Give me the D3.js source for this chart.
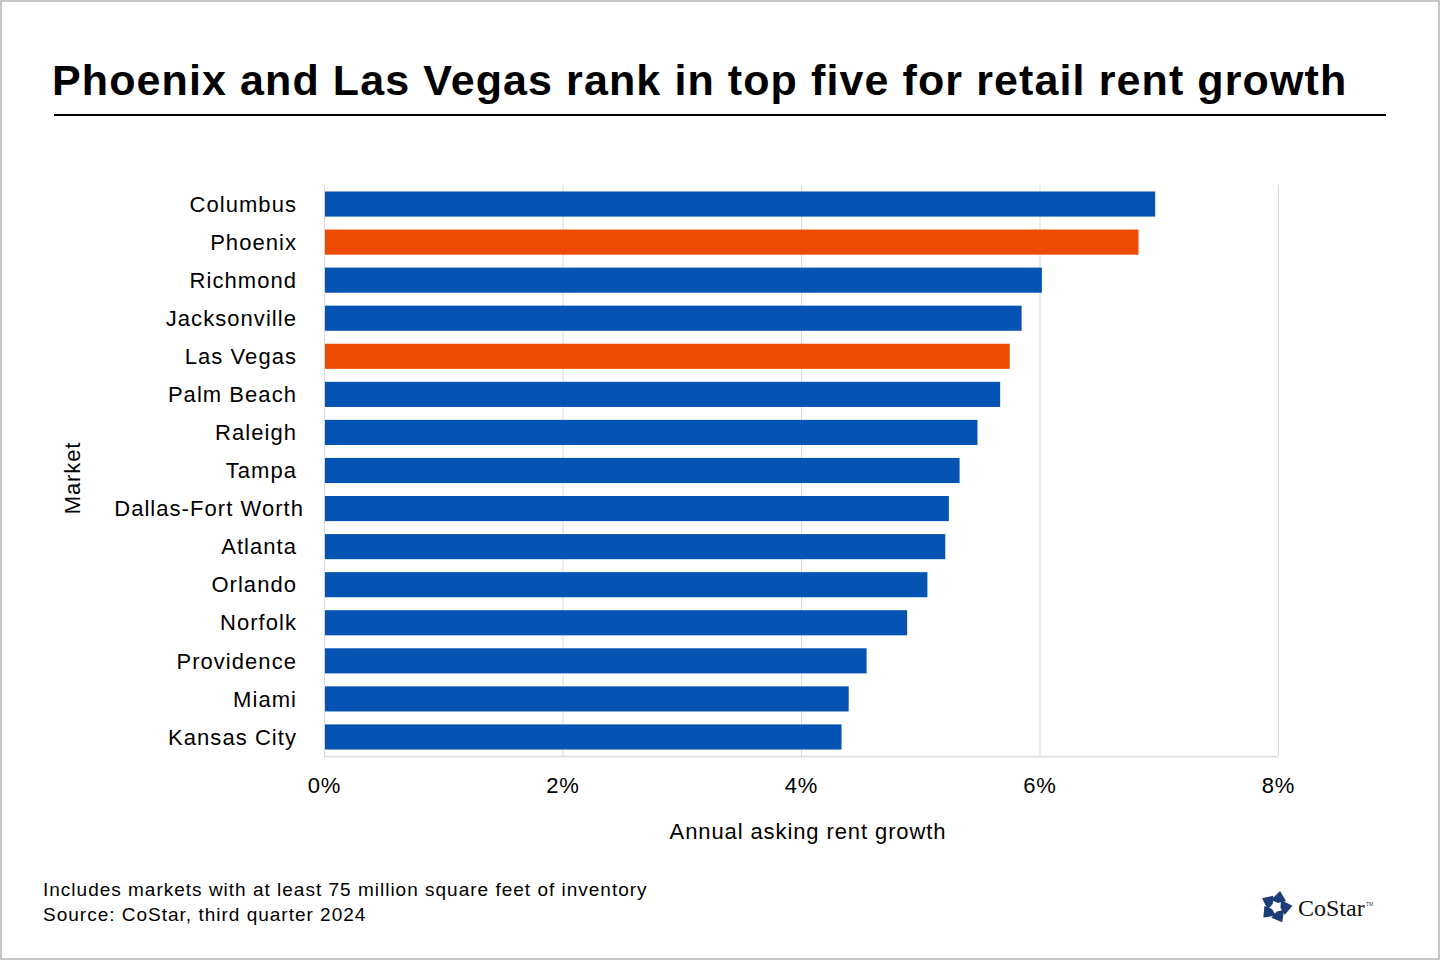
<!DOCTYPE html>
<html>
<head>
<meta charset="utf-8">
<script src="https://cdn.jsdelivr.net/npm/d3@7"></script>
<style>
  body { margin: 0; background: #fff; }
  svg { display: block; font-family: "Liberation Sans", Arial, sans-serif; }
</style>
</head>
<body>
<svg id="chart" width="1440" height="960"></svg>
<script>
var markets = ["Columbus", "Phoenix", "Richmond", "Jacksonville", "Las Vegas", "Palm Beach",
  "Raleigh", "Tampa", "Dallas-Fort Worth", "Atlanta", "Orlando", "Norfolk", "Providence",
  "Miami", "Kansas City"];
var growth = [6.97, 6.83, 6.02, 5.85, 5.75, 5.67, 5.48, 5.33, 5.24, 5.21, 5.06, 4.89, 4.55, 4.40, 4.34];
var highlight = ["Phoenix", "Las Vegas"];
var xTicks = [0, 2, 4, 6, 8];

var titleText = "Phoenix and Las Vegas rank in top five for retail rent growth";
var noteLines = ["Includes markets with at least 75 million square feet of inventory",
  "Source: CoStar, third quarter 2024"];

var svg = d3.select("#chart");
var margin = {top: 185, right: 162, bottom: 204, left: 324};
var width = +svg.attr("width") - margin.left - margin.right,
    height = +svg.attr("height") - margin.top - margin.bottom;

// frame
svg.append("rect")
  .attr("x", 1).attr("y", 1)
  .attr("width", 1438).attr("height", 958)
  .attr("fill", "#fff")
  .attr("stroke", "#c6c6c6")
  .attr("stroke-width", 2);

// title
svg.append("text")
  .attr("x", 52).attr("y", 95)
  .attr("font-size", 43)
  .attr("font-weight", "bold")
  .attr("letter-spacing", 1.1)
  .attr("fill", "#000")
  .text(titleText);

svg.append("line")
  .attr("x1", 54).attr("x2", 1386)
  .attr("y1", 115).attr("y2", 115)
  .attr("stroke", "#000")
  .attr("stroke-width", 2);

var x = d3.scaleLinear().domain([0, 8]).range([0, width]);
var y = d3.scaleBand().domain(markets).range([0, height]).paddingInner(0.34).paddingOuter(0.17);

var g = svg.append("g")
  .attr("transform", "translate(" + margin.left + "," + margin.top + ")");

// grid lines
g.selectAll(".grid")
  .data(xTicks)
  .enter().append("line")
  .attr("class", "grid")
  .attr("x1", function(d) { return x(d) + 0.5; })
  .attr("x2", function(d) { return x(d) + 0.5; })
  .attr("y1", 0)
  .attr("y2", height)
  .attr("stroke", "#d9d9d9")
  .attr("stroke-width", 1);

g.append("line")
  .attr("x1", 0).attr("x2", width)
  .attr("y1", height + 0.5).attr("y2", height + 0.5)
  .attr("stroke", "#d9d9d9")
  .attr("stroke-width", 1.5);

// bars
g.selectAll(".bar")
  .data(markets)
  .enter().append("rect")
  .attr("class", "bar")
  .attr("x", x(0) + 1)
  .attr("y", function(d) { return y(d); })
  .attr("width", function(d, i) { return x(growth[i]) - x(0) - 1; })
  .attr("height", y.bandwidth())
  .attr("fill", function(d) { return highlight.indexOf(d) >= 0 ? "#ee4a02" : "#0554b4"; });

// y axis labels
var yAxis = g.append("g")
  .attr("transform", "translate(-27,0)")
  .call(d3.axisLeft(y).tickSize(0).tickPadding(0));
yAxis.select(".domain").remove();
yAxis.selectAll("text")
  .attr("font-size", 22)
  .attr("letter-spacing", 1.05)
  .attr("font-family", "\"Liberation Sans\", Arial, sans-serif")
  .attr("fill", "#000")
  .attr("dy", "0.35em")
  .attr("dx", function(d) { return d === "Dallas-Fort Worth" ? 7 : 0; });

// x axis labels
var xAxis = g.append("g")
  .attr("transform", "translate(0," + height + ")")
  .call(d3.axisBottom(x).tickValues(xTicks).tickSize(0).tickPadding(0)
    .tickFormat(function(d) { return d + "%"; }));
xAxis.select(".domain").remove();
xAxis.selectAll("text")
  .attr("y", 29)
  .attr("dy", "0.35em")
  .attr("font-size", 22)
  .attr("letter-spacing", 0.8)
  .attr("font-family", "\"Liberation Sans\", Arial, sans-serif")
  .attr("fill", "#000");

// axis titles
svg.append("text")
  .attr("x", 808).attr("y", 839)
  .attr("text-anchor", "middle")
  .attr("font-size", 22)
  .attr("letter-spacing", 0.9)
  .attr("fill", "#000")
  .text("Annual asking rent growth");

svg.append("text")
  .attr("transform", "translate(80,478) rotate(-90)")
  .attr("text-anchor", "middle")
  .attr("font-size", 22)
  .attr("letter-spacing", 0.9)
  .attr("fill", "#000")
  .text("Market");

// notes
svg.selectAll(".note")
  .data(noteLines)
  .enter().append("text")
  .attr("class", "note")
  .attr("x", 43)
  .attr("y", function(d, i) { return 896 + i * 25; })
  .attr("font-size", 19)
  .attr("letter-spacing", 1)
  .attr("fill", "#000")
  .text(function(d) { return d; });

// CoStar logo
var logo = svg.append("g").attr("transform", "translate(1276,907)");
var pieces = [0, 1, 2, 3, 4];
logo.selectAll(".piece")
  .data(pieces)
  .enter().append("path")
  .attr("class", "piece")
  .attr("d", "M-5,-7 L4,-16 L10,-6 L2,-4 Z")
  .attr("transform", function(d) { return "rotate(" + (d * 72) + ")"; })
  .attr("fill", "#1d3c78");

svg.append("text")
  .attr("x", 1298).attr("y", 916)
  .attr("font-family", "\"Liberation Serif\", \"DejaVu Serif\", serif")
  .attr("font-size", 24)
  .attr("fill", "#111")
  .text("CoStar");
svg.append("text")
  .attr("x", 1366).attr("y", 906)
  .attr("font-size", 5)
  .attr("fill", "#333")
  .text("TM");
</script>
</body>
</html>
